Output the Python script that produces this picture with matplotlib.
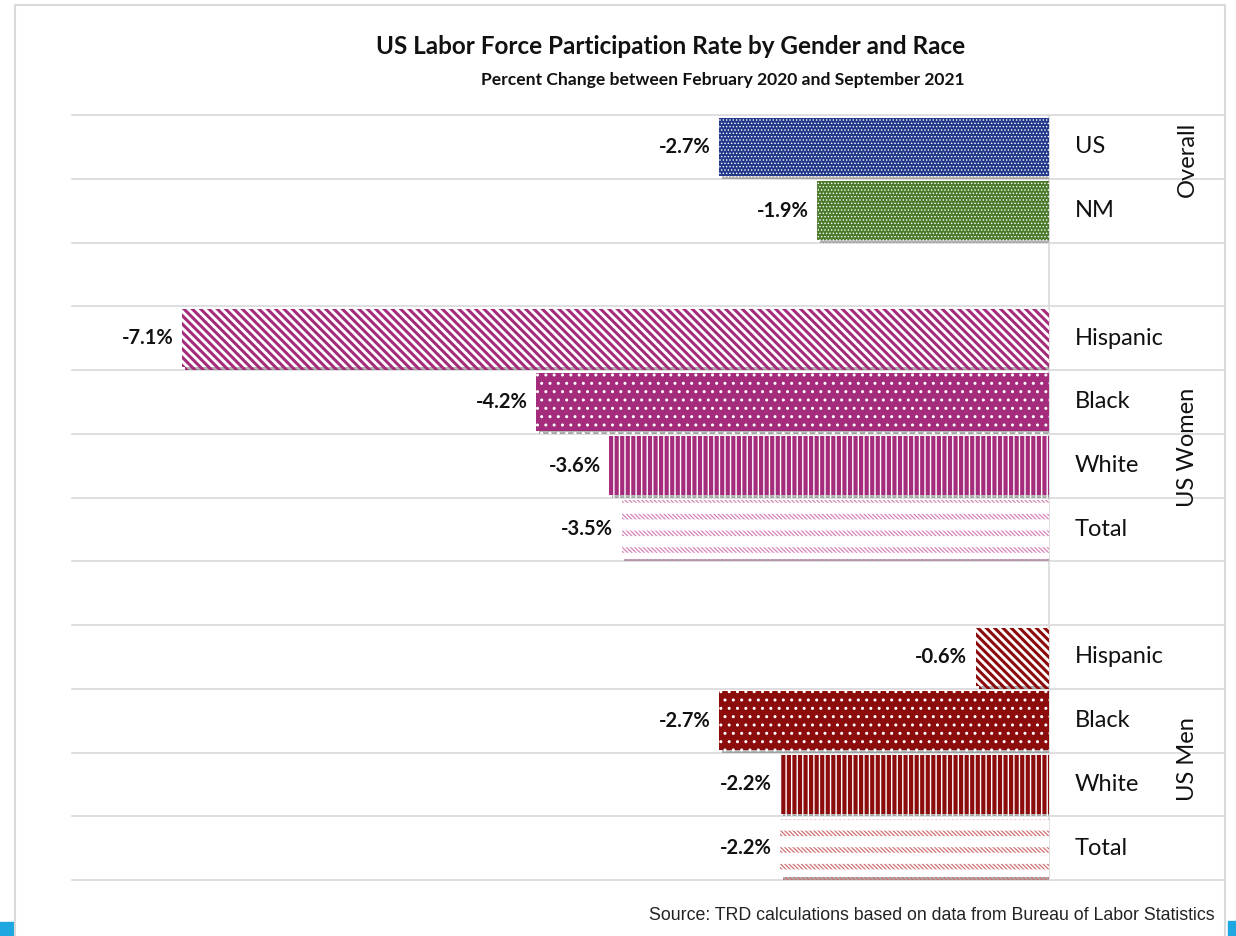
import numpy as np
import matplotlib.pyplot as plt
import matplotlib.patheffects as pe
from matplotlib.patches import Rectangle

plt.rcParams['font.family'] = ['Lato', 'DejaVu Sans']

# data
overall_labels = ["US", "NM"]
overall_vals = [-2.7, -1.9]
women_labels = ["Hispanic", "Black", "White", "Total"]
women_vals = [-7.1, -4.2, -3.6, -3.5]
men_labels = ["Hispanic", "Black", "White", "Total"]
men_vals = [-0.6, -2.7, -2.2, -2.2]
group_names = ["Overall", "US Women", "US Men"]

navy = "#22398a"
green = "#4b7a2a"
magenta = "#a52c7c"
darkred = "#8c0b0b"
pink_l = "#d683b8"
red_l = "#d07070"

# (face, hatch colour, hatch, hatch lw, overlay bands?)
overall_styles = [(navy, "white", ".....", 0.6, False),
                  (green, "white", ".....", 0.6, False)]
women_styles = [("white", magenta, "\\" * 4, 2.2, False),
                (magenta, "white", "..", 1.0, False),
                (magenta, "white", "|||", 1.0, False),
                ("white", pink_l, "\\" * 8, 0.9, True)]
men_styles = [("white", darkred, "\\" * 4, 2.2, False),
              (darkred, "white", "..", 1.0, False),
              (darkred, "white", "|||", 1.0, False),
              ("white", red_l, "\\" * 8, 0.9, True)]

labels = overall_labels + [""] + women_labels + [""] + men_labels
values = overall_vals + [np.nan] + women_vals + [np.nan] + men_vals
styles = overall_styles + [None] + women_styles + [None] + men_styles
ypos = np.arange(len(labels))

W, H = 1236, 936
fig = plt.figure(figsize=(12.36, 9.36), dpi=100)
ax = fig.add_axes([72 / W, (H - 880) / H, (1049 - 72) / W, (880 - 115) / H])
ax.set_xlim(-8.0, 0)
ax.set_ylim(len(labels) - 0.5, -0.5)
ax.axis("off")

x_right = (1225 - 72) / (1049 - 72)
shadow = [pe.SimplePatchShadow(offset=(2, -2), shadow_rgbFace="#555555", alpha=0.45), pe.Normal()]

for y, v, st in zip(ypos, values, styles):
    if st is None:
        continue
    face, hc, hatch, hlw, bands = st
    plt.rcParams['hatch.linewidth'] = hlw
    b = ax.barh(y, v, height=0.92, color=face, edgecolor=hc, hatch=hatch, linewidth=0, zorder=3)
    for p in b:
        p.set_path_effects(shadow)
    if bands:
        # white bands cut the fine diagonals into rows of dashes
        plt.rcParams['hatch.linewidth'] = 8.0
        ax.barh(y, v, height=0.92, color="none", edgecolor="white", hatch="-", linewidth=0, zorder=4)
    ax.text(v - 0.07, y, f"{v:.1f}%", ha="right", va="center", fontsize=14.5, fontweight="bold", color="#111111")

# grid lines
tr = ax.get_yaxis_transform()
for yb in np.arange(-0.5, len(labels), 1.0):
    ax.plot([0, x_right], [yb, yb], transform=tr, color="#d9d9d9", lw=1.2, clip_on=False, zorder=1)
ax.plot([0, 0], [-0.5, len(labels) - 0.5], color="#d9d9d9", lw=1.2, clip_on=False, zorder=1)

# category labels
for y, lab in zip(ypos, labels):
    ax.text((1075 - 72) / (1049 - 72), y, lab, transform=tr, ha="left", va="center", fontsize=17, color="#111111")

# group labels
grp_y = [0.2, 4.72, 9.6]
for gy, g in zip(grp_y, group_names):
    ax.text((1187 - 72) / (1049 - 72), gy, g, transform=tr, rotation=90, ha="center", va="center",
            fontsize=17, color="#111111")

fig.text(671 / W, 1 - 47 / H, "US Labor Force Participation Rate by Gender and Race",
         ha="center", va="center", fontsize=17.5, fontweight="bold", color="#111111")
fig.text(723 / W, 1 - 80 / H, "Percent Change between February 2020 and September 2021",
         ha="center", va="center", fontsize=12.6, fontweight="bold", color="#111111")
fig.text(1215 / W, 1 - 916 / H, "Source: TRD calculations based on data from Bureau of Labor Statistics",
         ha="right", va="center", fontsize=12.8, color="#222222",
         family=["Liberation Sans", "DejaVu Sans"])

# frame and corner marks
fig.add_artist(plt.Line2D([15 / W, 15 / W], [0, 1 - 5 / H], color="#d9d9d9", lw=1.5))
fig.add_artist(plt.Line2D([15 / W, 1225 / W], [1 - 5 / H, 1 - 5 / H], color="#d9d9d9", lw=1.5))
fig.add_artist(plt.Line2D([1225 / W, 1225 / W], [0, 1 - 5 / H], color="#d9d9d9", lw=1.5))
fig.add_artist(Rectangle((0, 0), 14 / W, 14 / H, transform=fig.transFigure, color="#1ea7e0"))
fig.add_artist(Rectangle((1228 / W, 0), 8 / W, 15 / H, transform=fig.transFigure, color="#1ea7e0"))

fig.savefig("out.png", dpi=100)
